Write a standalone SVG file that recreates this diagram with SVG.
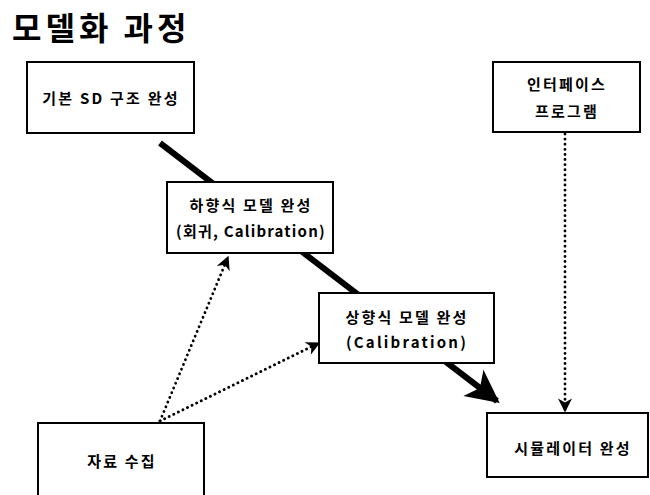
<svg xmlns="http://www.w3.org/2000/svg" width="650" height="495" viewBox="0 0 650 495">
<defs>
<style>
.box{fill:#fff;stroke:#000;stroke-width:2}
.t{font-family:"Noto Sans CJK KR","Noto Sans",sans-serif;font-size:15px;font-weight:bold;fill:#000;text-anchor:middle;letter-spacing:2.2px}
.title{font-family:"Noto Sans CJK KR",sans-serif;font-size:32px;font-weight:bold;fill:#000;letter-spacing:4px}
.thick{stroke:#000;stroke-width:6;fill:none}
.dot{stroke:#000;stroke-width:2.8;fill:none;stroke-dasharray:0.1 5;stroke-linecap:round}
</style>
<marker id="big" viewBox="0 0 10 10" refX="9" refY="5" markerWidth="6" markerHeight="5.5" orient="auto" markerUnits="strokeWidth">
<path d="M0,0 L10,5 L0,10 L2.5,5 Z" fill="#000"/>
</marker>
<marker id="small" viewBox="0 0 10 10" refX="9" refY="5" markerWidth="6" markerHeight="5" orient="auto" markerUnits="strokeWidth">
<path d="M0,0 L10,5 L0,10 L3,5 Z" fill="#000"/>
</marker>
</defs>
<rect width="650" height="495" fill="#fff"/>
<text class="title" x="12" y="40">모델화 과정</text>
<g id="connectors">
<line class="thick" x1="160" y1="143" x2="497" y2="401" marker-end="url(#big)"/>
<line class="dot" x1="565" y1="134" x2="565" y2="411" marker-end="url(#small)"/>
<line class="dot" x1="160" y1="421" x2="228" y2="257" marker-end="url(#small)"/>
<line class="dot" x1="160" y1="421" x2="319" y2="343" marker-end="url(#small)"/>
</g>
<g id="n1"><rect class="box" x="27" y="62" width="167" height="71"/><text class="t" x="111" y="104">기본 SD 구조 완성</text></g>
<g id="n2"><rect class="box" x="167" y="182" width="166" height="71"/><text class="t" x="251" y="211">하향식 모델 완성</text><text class="t" x="251" y="237" style="letter-spacing:1.2px">(회귀, Calibration)</text></g>
<g id="n3"><rect class="box" x="319" y="293" width="175" height="70"/><text class="t" x="407" y="323">상향식 모델 완성</text><text class="t" x="407" y="348">(Calibration)</text></g>
<g id="n4"><rect class="box" x="493" y="62" width="147" height="70"/><text class="t" x="567" y="90">인터페이스</text><text class="t" x="567" y="117">프로그램</text></g>
<g id="n5"><rect class="box" x="487" y="413" width="161" height="64"/><text class="t" x="573" y="454">시뮬레이터 완성</text></g>
<g id="n6"><rect class="box" x="38" y="423" width="166" height="80"/><text class="t" x="122" y="467">자료 수집</text></g>
</svg>
